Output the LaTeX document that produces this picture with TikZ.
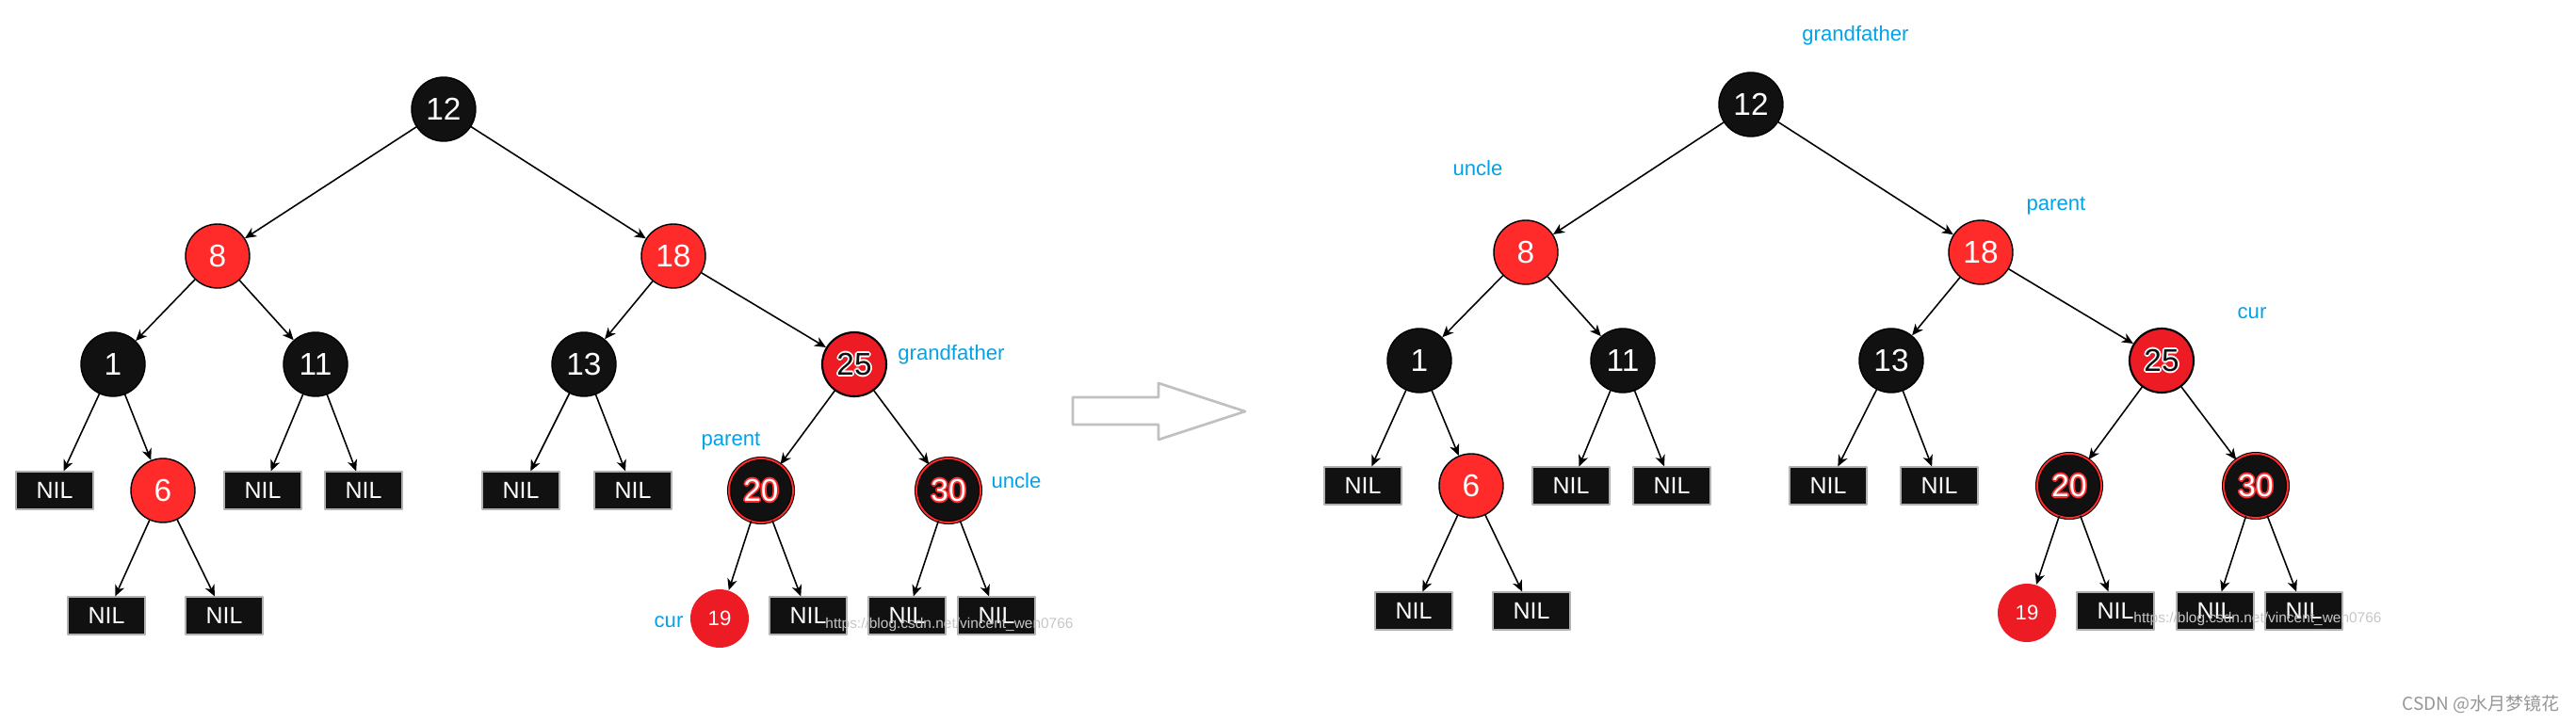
\documentclass[tikz,border=0pt]{standalone}
\usepackage{fontspec}
\setmainfont{Liberation Sans}
\newfontfamily\cjkfont{Noto Sans CJK SC}
\usetikzlibrary{arrows.meta}
\definecolor{nodered}{RGB}{255,42,42}
\definecolor{curred}{RGB}{237,28,36}
\definecolor{nodeblack}{RGB}{17,17,17}
\definecolor{tagblue}{RGB}{0,162,232}
\definecolor{hintgray}{RGB}{192,192,192}
\definecolor{markgray}{RGB}{150,150,150}
\newcommand{\rimtext}[3]{\foreach \rx/\ry in {.5/0,-.5/0,0/.5,0/-.5,.35/.35,-.35/.35,.35/-.35,-.35/-.35}{\rlap{\kern\rx pt\raisebox{\ry pt}{\textcolor{#1}{#3}}}}\textcolor{#2}{#3}}
\tikzset{
blacknode/.style={circle,fill=nodeblack,draw=black,line width=0.4pt,minimum size=0.68cm,inner sep=0pt,text=white,font=\fontsize{9.5}{10}\selectfont},
rednode/.style={blacknode,fill=nodered},
gfnode/.style={blacknode,fill=curred,line width=0.6pt},
ringnode/.style={blacknode,draw=black,double=nodered,double distance=0.55pt,line width=0.3pt},
curnode/.style={circle,fill=curred,minimum size=0.62cm,inner sep=0pt,text=white,font=\fontsize{6.3}{7}\selectfont},
nilbox/.style={rectangle,fill=nodeblack,draw=gray!60,line width=0.3pt,minimum width=0.82cm,minimum height=0.40cm,inner sep=0pt,text=white,font=\fontsize{7.1}{8}\selectfont},
tag/.style={text=tagblue,inner sep=0pt,font=\fontsize{6.3}{7}\selectfont},
urlmark/.style={text=gray!45,inner sep=0pt,font=\fontsize{4.4}{5}\selectfont},
edge/.style={->,line width=0.45pt}
}
\begin{document}
\begin{tikzpicture}[line cap=round,line join=round,>={Stealth[length=3.4pt,width=3pt,inset=1pt]},x=1.0cm,y=1.0cm]
\useasboundingbox (0.,0.) rectangle (27.35,7.67);
\node[blacknode] (a12) at (4.71,6.51) {12};
\node[rednode] (a8) at (2.31,4.95) {8};
\node[rednode] (a18) at (7.15,4.95) {18};
\node[blacknode] (a1) at (1.20,3.80) {1};
\node[blacknode] (a11) at (3.35,3.80) {11};
\node[blacknode] (a13) at (6.20,3.80) {13};
\node[gfnode] (a25) at (9.07,3.80) {\rimtext{white}{nodeblack}{25}};
\node[nilbox] (a1l) at (0.58,2.46) {NIL};
\node[rednode] (a6) at (1.73,2.46) {6};
\node[nilbox] (a11l) at (2.79,2.46) {NIL};
\node[nilbox] (a11r) at (3.86,2.46) {NIL};
\node[nilbox] (a13l) at (5.53,2.46) {NIL};
\node[nilbox] (a13r) at (6.72,2.46) {NIL};
\node[ringnode] (a20) at (8.08,2.46) {\rimtext{nodered}{white}{20}};
\node[ringnode] (a30) at (10.07,2.46) {\rimtext{nodered}{white}{30}};
\node[nilbox] (a6l) at (1.13,1.13) {NIL};
\node[nilbox] (a6r) at (2.38,1.13) {NIL};
\node[curnode] (a19) at (7.64,1.10) {19};
\node[nilbox] (a20r) at (8.58,1.13) {NIL};
\node[nilbox] (a30l) at (9.63,1.13) {NIL};
\node[nilbox] (a30r) at (10.58,1.13) {NIL};
\node[tag] (agf) at (10.10,3.90) {grandfather};
\node[tag] (apa) at (7.76,2.98) {parent};
\node[tag] (aun) at (10.79,2.56) {uncle};
\node[tag] (acu) at (7.10,1.06) {cur};
\node[urlmark] (aurl) at (10.08,1.04) {https://blog.csdn.net/vincent\_wen0766};
\draw[hintgray,line width=0.77pt] (11.39,3.45) -- (12.30,3.45) -- (12.30,3.60) -- (13.22,3.30) -- (12.30,3.00) -- (12.30,3.16) -- (11.39,3.16) -- cycle;
\node[blacknode] (b12) at (18.59,6.56) {12};
\node[rednode] (b8) at (16.20,4.99) {8};
\node[rednode] (b18) at (21.03,4.99) {18};
\node[blacknode] (b1) at (15.07,3.84) {1};
\node[blacknode] (b11) at (17.23,3.84) {11};
\node[blacknode] (b13) at (20.08,3.84) {13};
\node[gfnode] (b25) at (22.95,3.84) {\rimtext{white}{nodeblack}{25}};
\node[nilbox] (b1l) at (14.47,2.51) {NIL};
\node[rednode] (b6) at (15.62,2.51) {6};
\node[nilbox] (b11l) at (16.68,2.51) {NIL};
\node[nilbox] (b11r) at (17.75,2.51) {NIL};
\node[nilbox] (b13l) at (19.41,2.51) {NIL};
\node[nilbox] (b13r) at (20.59,2.51) {NIL};
\node[ringnode] (b20) at (21.97,2.51) {\rimtext{nodered}{white}{20}};
\node[ringnode] (b30) at (23.95,2.51) {\rimtext{nodered}{white}{30}};
\node[nilbox] (b6l) at (15.01,1.18) {NIL};
\node[nilbox] (b6r) at (16.26,1.18) {NIL};
\node[curnode] (b19) at (21.52,1.16) {19};
\node[nilbox] (b20r) at (22.46,1.18) {NIL};
\node[nilbox] (b30l) at (23.52,1.18) {NIL};
\node[nilbox] (b30r) at (24.46,1.18) {NIL};
\node[tag] (bgf) at (19.70,7.29) {grandfather};
\node[tag] (bun) at (15.69,5.88) {uncle};
\node[tag] (bpa) at (21.83,5.48) {parent};
\node[tag] (bcu) at (23.91,4.34) {cur};
\node[urlmark] (burl) at (23.97,1.10) {https://blog.csdn.net/vincent\_wen0766};
\foreach \t in {a,b}
\foreach \u/\v in {12/8,12/18,8/1,8/11,18/13,18/25,1/1l,1/6,11/11l,11/11r,13/13l,13/13r,25/20,25/30,6/6l,6/6r,20/19,20/20r,30/30l,30/30r}
\draw[edge] (\t\u) -- (\t\v);
\node[text=markgray,inner sep=0pt,font=\cjkfont\fontsize{5.4}{6}\selectfont] (csdn) at (26.34,0.19) {CSDN @水月梦镜花};
\end{tikzpicture}
\end{document}
